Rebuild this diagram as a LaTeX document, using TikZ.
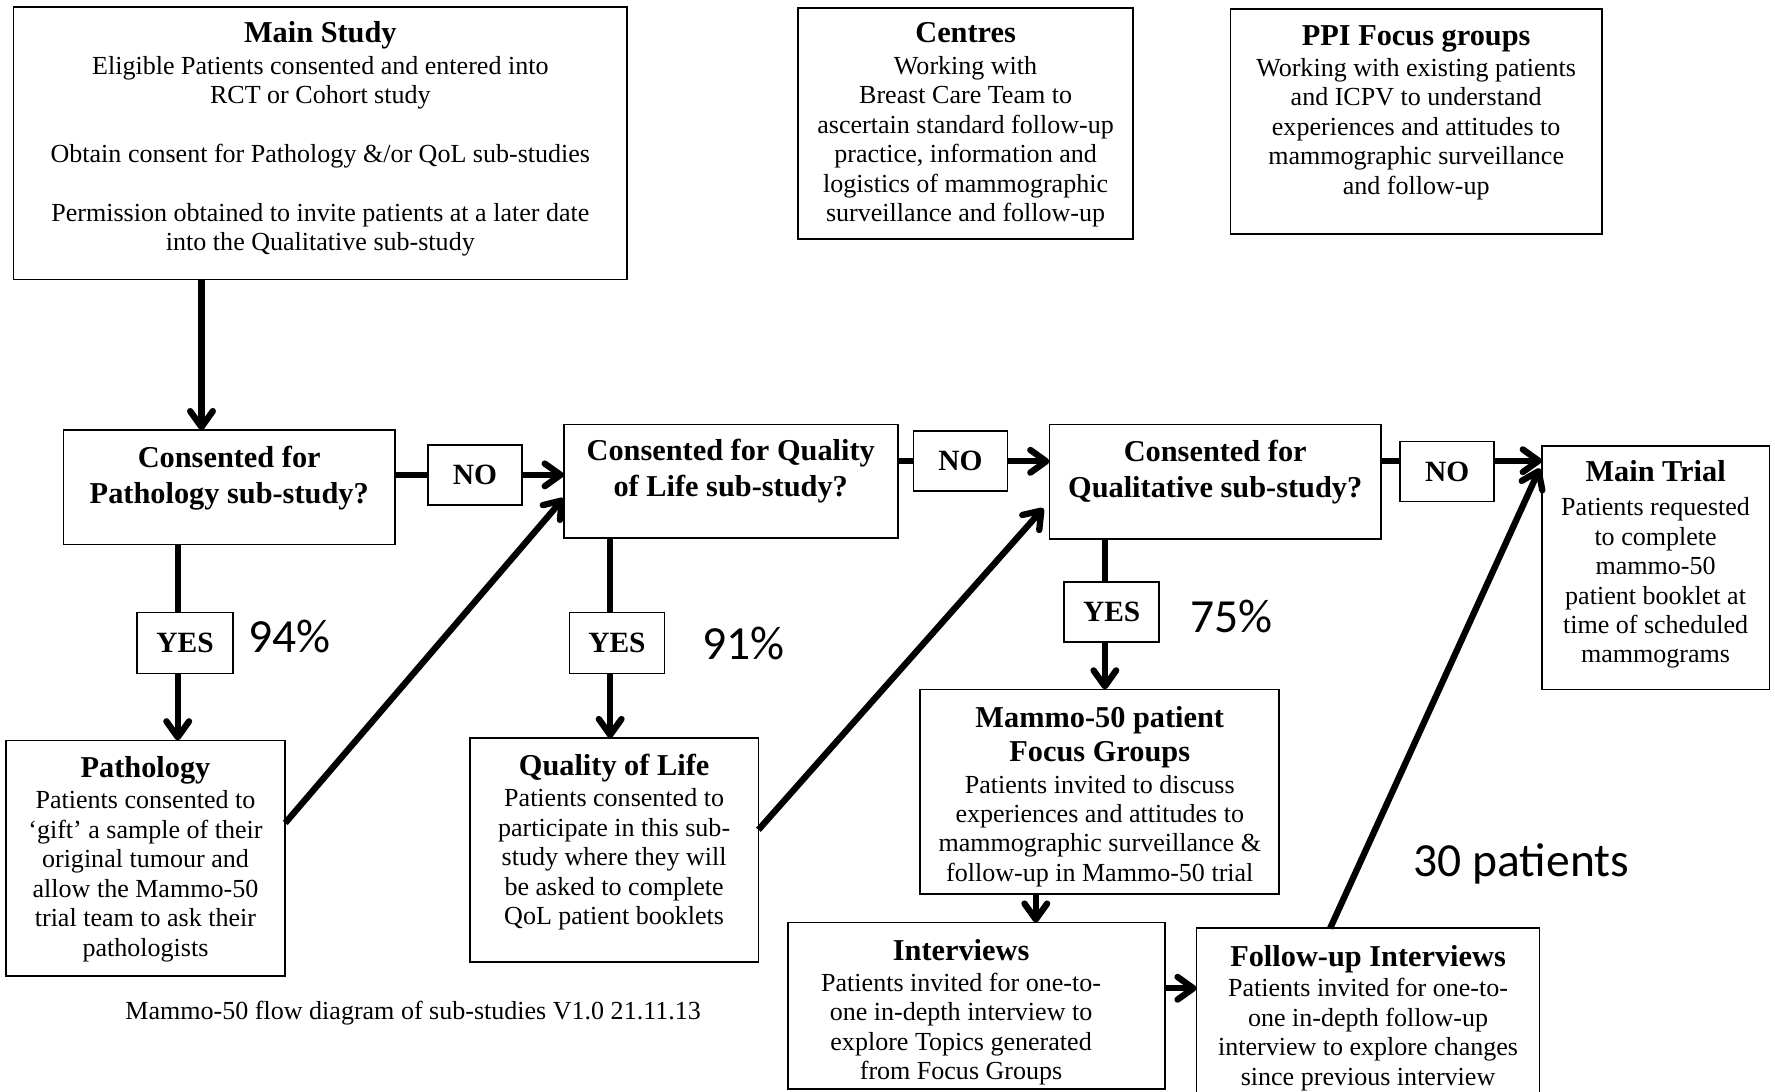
\documentclass[tikz,border=0pt]{standalone}
\usepackage{fontspec}
\setmainfont{Liberation Serif}
\newfontfamily\calib{Carlito}
\usetikzlibrary{arrows.meta}
\newcommand\bodyf{\fontsize{11.5}{13}\selectfont}
\newcommand\ttlf{\fontsize{13.4}{16}\selectfont\bfseries}
\newcommand\bx[4]{\parbox[c][#2][t]{#1}{\centering\vspace*{#3}#4\par}}
\begin{document}
\begin{tikzpicture}[x=0.5pt,y=-0.5pt,
  box/.style={draw, line width=0.75pt, inner sep=0pt, outer sep=0pt, anchor=north west, font=\bodyf},
  tag/.style={draw, line width=0.75pt, inner sep=0pt, outer sep=0pt, anchor=north west, font=\fontsize{13}{15}\selectfont\bfseries, align=center},
  con/.style={line width=2.8pt},
  arr/.style={line width=2.8pt, -{Straight Barb[length=7pt,width=10pt,round]}},
  pct/.style={font=\calib\fontsize{21}{25}\selectfont}
]
\useasboundingbox (0,0) rectangle (1568,964);
\clip (0,0) rectangle (1568,964);
\fill[white] (0,0) rectangle (1568,964);

% top boxes
\node[box] (MS) at (12,6) {\bx{271pt}{120.5pt}{6.5pt}{{\ttlf Main Study}\\[1pt]
Eligible Patients consented and entered into\\
RCT or Cohort study\\[13pt]
Obtain consent for Pathology \&/or QoL sub-studies\\[13pt]
Permission obtained to invite patients at a later date\\
into the Qualitative sub-study}};
\node[box] (CE) at (705,7) {\bx{148pt}{102pt}{6.5pt}{{\ttlf Centres}\\[1pt]
Working with\\ Breast Care Team to\\ ascertain standard follow-up\\ practice, information and\\ logistics of mammographic\\ surveillance and follow-up}};
\node[box] (PPI) at (1087,8) {\bx{164pt}{99.5pt}{7.5pt}{{\ttlf PPI Focus groups}\\[0.5pt]
Working with existing patients\\ and ICPV to understand\\ experiences and attitudes to\\ mammographic surveillance\\ and follow-up}};

% decision boxes
\node[box, font=\ttlf] (CP) at (56,380) {\bx{146.5pt}{50.5pt}{7pt}{Consented for\\ Pathology sub-study?}};
\node[box, font=\ttlf] (CQ) at (498,375) {\bx{147.5pt}{50pt}{6.5pt}{Consented for Quality\\ of Life sub-study?}};
\node[box, font=\ttlf] (CL) at (927,375) {\bx{146.5pt}{50.5pt}{7pt}{Consented for\\ Qualitative sub-study?}};
\node[box] (MT) at (1362,394) {\bx{100.5pt}{107.5pt}{6.5pt}{{\ttlf Main Trial}\\[2pt]
Patients requested\\ to complete\\ mammo-50\\ patient booklet at\\ time of scheduled\\ mammograms}};

% NO / YES tags
\node[tag, minimum width=41.5pt, minimum height=26.5pt] (NO1) at (378,393) {NO};
\node[tag, minimum width=41.5pt, minimum height=26.5pt] (NO2) at (807,381) {NO};
\node[tag, minimum width=41.5pt, minimum height=26.5pt] (NO3) at (1237,390) {NO};
\node[tag, minimum width=42.5pt, minimum height=27pt] (YES1) at (121,541) {YES};
\node[tag, minimum width=42pt, minimum height=27pt] (YES2) at (503,541) {YES};
\node[tag, minimum width=42pt, minimum height=26.5pt] (YES3) at (940,514) {YES};

% sub-study boxes
\node[box] (PA) at (5,654) {\bx{123.5pt}{104pt}{7pt}{{\ttlf Pathology}\\[1pt]
Patients consented to\\ ‘gift’ a sample of their\\ original tumour and\\ allow the Mammo-50\\ trial team to ask their\\ pathologists}};
\node[box] (QL) at (415,652) {\bx{127.5pt}{99pt}{7pt}{{\ttlf Quality of Life}\\[1pt]
Patients consented to\\ participate in this sub-\\ study where they will\\ be asked to complete\\ QoL patient booklets}};
\node[box] (MF) at (813,609) {\bx{158.5pt}{90.5pt}{7.5pt}{{\ttlf Mammo-50 patient\\[2pt] Focus Groups}\\[1pt]
Patients invited to discuss\\ experiences and attitudes to\\ mammographic surveillance \&\\ follow-up in Mammo-50 trial}};
\node[box] (IV) at (696,815) {\parbox[c][73.5pt][t]{166.5pt}{\vspace*{7.5pt}\parbox{153pt}{\centering{\ttlf Interviews}\\[0.5pt]
Patients invited for one-to-\\ one in-depth interview to\\ explore Topics generated\\ from Focus Groups}}};
\node[box] (FU) at (1057,820) {\bx{151.5pt}{77.5pt}{7.5pt}{{\ttlf Follow-up Interviews}\\[0.5pt]
Patients invited for one-to-\\ one in-depth follow-up\\ interview to explore changes\\ since previous interview}};

% labels
\node[pct] (p94) at (256,562) {94\%};
\node[pct] (p91) at (657,568) {91\%};
\node[pct] (p75) at (1088,545) {75\%};
\node[pct] (p30) at (1344,763) {30 patients};
\node[font=\bodyf] (cap) at (365,895) {Mammo-50 flow diagram of sub-studies V1.0 21.11.13};

% helper coordinates
\coordinate (x0) at (178,0);
\coordinate (x1) at (157,0);
\coordinate (x2) at (539,0);
\coordinate (x3) at (976,0);
\coordinate (x4) at (915,0);
\coordinate (y3) at (0,407);
\coordinate (y5) at (0,873);
\coordinate (dA) at (0,727);
\coordinate (dB) at (0,440);
\coordinate (dC) at (0,733);
\coordinate (dD) at (0,443);
\coordinate (dE) at (1175,0);
\coordinate (dF) at (0,410);

% connectors
\draw[arr] (MS.south -| x0) -- (CP.north -| x0);
\draw[con] (CP.east |- NO1) -- (NO1.west);
\draw[arr] (NO1.east) -- (CQ.west |- NO1.east);
\draw[con] (CQ.east |- NO2) -- (NO2.west);
\draw[arr] (NO2.east) -- (CL.west |- NO2.east);
\draw[con] (CL.east |- y3) -- (NO3.west |- y3);
\draw[arr] (NO3.east |- y3) -- (MT.west |- y3);

\draw[con] (CP.south -| x1) -- (YES1.north -| x1);
\draw[arr] (YES1.south -| x1) -- (PA.north -| x1);
\draw[con] (CQ.south -| x2) -- (YES2.north -| x2);
\draw[arr] (YES2.south -| x2) -- (QL.north -| x2);
\draw[con] (CL.south -| x3) -- (YES3.north -| x3);
\draw[arr] (YES3.south -| x3) -- (MF.north -| x3);
\draw[arr] (MF.south -| x4) -- (IV.north -| x4);
\draw[arr] (IV.east |- y5) -- (FU.west |- y5);

\draw[arr] (PA.east |- dA) -- (CQ.west |- dB);
\draw[arr, shorten >=4pt] (QL.east |- dC) -- (CL.west |- dD);
\draw[arr, shorten >=2pt] (FU.north -| dE) -- (MT.west |- dF);
\end{tikzpicture}
\end{document}
